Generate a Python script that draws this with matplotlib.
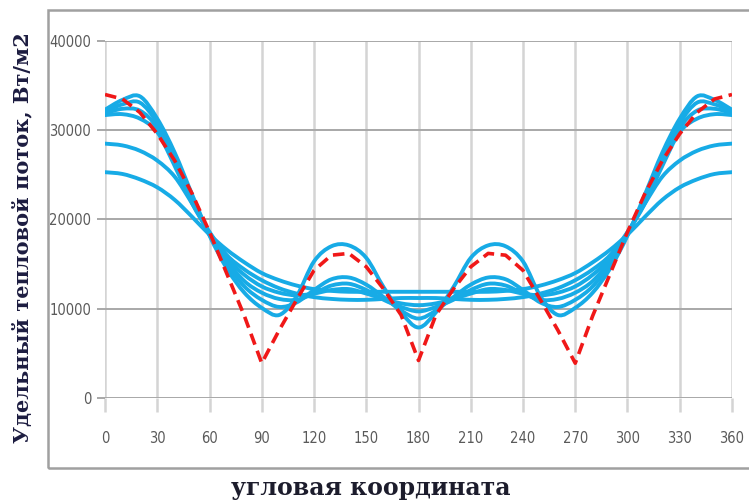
import matplotlib
matplotlib.use("Agg")
from matplotlib import pyplot as plt
from matplotlib.patches import Rectangle, PathPatch
from matplotlib.path import Path

# angle grid, degrees
angles = [0, 10, 20, 30, 40, 50, 60, 70, 80, 90, 100, 110, 120, 130, 140, 150, 160, 170, 180,
          190, 200, 210, 220, 230, 240, 250, 260, 270, 280, 290, 300, 310, 320, 330, 340, 350, 360]

# red dashed reference curve
red_curve = [34000, 33500, 32000, 29600, 26600, 22900, 18600, 13900, 9200, 3900, 7600, 11000, 14300,
             16000, 16200, 14700, 12200, 9300, 4200, 9300, 12200, 14700, 16200, 16000, 14300, 11000,
             7600, 3900, 9200, 13900, 18600, 22900, 26600, 29600, 32000, 33500, 34000]

# blue curves
c1 = [32300, 33400, 33800, 31300, 27500, 22800, 18200, 14500, 11800, 10100, 9300, 11400, 15300,
      17000, 17100, 15700, 12400, 9600, 7900, 9600, 12400, 15700, 17100, 17000, 15300, 11400,
      9300, 10100, 11800, 14500, 18200, 22800, 27500, 31300, 33800, 33400, 32300]
c2 = [32100, 32900, 33100, 30800, 27000, 22500, 18300, 15000, 12500, 11000, 10200, 10700, 12100,
      13300, 13500, 12700, 11300, 9800, 8900, 9800, 11300, 12700, 13500, 13300, 12100, 10700,
      10200, 11000, 12500, 15000, 18300, 22500, 27000, 30800, 33100, 32900, 32100]
c3 = [31900, 32400, 32200, 30300, 26500, 22200, 18400, 15400, 13100, 11800, 11100, 11000, 11700,
      12600, 12800, 12100, 11000, 10200, 9700, 10200, 11000, 12100, 12800, 12600, 11700, 11000,
      11100, 11800, 13100, 15400, 18400, 22200, 26500, 30300, 32200, 32400, 31900]
c4 = [31700, 31800, 31300, 29800, 26000, 21800, 18500, 15700, 13800, 12500, 11800, 11500, 11700,
      12100, 12200, 11700, 11100, 10600, 10400, 10600, 11100, 11700, 12200, 12100, 11700, 11500,
      11800, 12500, 13800, 15700, 18500, 21800, 26000, 29800, 31300, 31800, 31700]
c5 = [28500, 28300, 27700, 26600, 24800, 21800, 18600, 16000, 14400, 13200, 12300, 11700, 11300,
      11100, 11000, 11000, 11100, 11200, 11200, 11200, 11100, 11000, 11000, 11100, 11300, 11700,
      12300, 13200, 14400, 16000, 18600, 21800, 24800, 26600, 27700, 28300, 28500]
c6 = [25300, 25100, 24500, 23600, 22200, 20300, 18300, 16600, 15200, 14000, 13200, 12600, 12200,
      12000, 11900, 11900, 11900, 11900, 11900, 11900, 11900, 11900, 11900, 12000, 12200, 12600,
      13200, 14000, 15200, 16600, 18300, 20300, 22200, 23600, 24500, 25100, 25300]
blue_curves = [c6, c5, c4, c3, c2, c1]

x_ticks = [0, 30, 60, 90, 120, 150, 180, 210, 240, 270, 300, 330, 360]
y_ticks = [0, 10000, 20000, 30000, 40000]


def smooth_path(xs, ys):
    # excel-like smoothed line: bezier segments through the points
    n = len(xs)
    verts = [(xs[0], ys[0])]
    codes = [Path.MOVETO]
    for i in range(n - 1):
        a = max(i - 1, 0)
        b = min(i + 2, n - 1)
        p1 = (xs[i] + (xs[i + 1] - xs[a]) / 6, ys[i] + (ys[i + 1] - ys[a]) / 6)
        p2 = (xs[i + 1] - (xs[b] - xs[i]) / 6, ys[i + 1] - (ys[b] - ys[i]) / 6)
        verts += [p1, p2, (xs[i + 1], ys[i + 1])]
        codes += [Path.CURVE4] * 3
    return Path(verts, codes)


fig = plt.figure(figsize=(7.49, 5.01), dpi=100)
fig.patch.set_facecolor("white")

# outer chart frame
fig.patches.append(Rectangle((0.064, 0.066), 0.96, 0.914, transform=fig.transFigure,
                             fill=False, edgecolor="#a0a0a0", linewidth=1.8, clip_on=False))

ax = fig.add_axes([0.1402, 0.2056, 0.8371, 0.7126])

for ycurve in blue_curves:
    ax.add_patch(PathPatch(smooth_path(angles, ycurve), fill=False, edgecolor="#17abe6",
                           linewidth=2.8, joinstyle="round", capstyle="round", zorder=3))
ax.plot(angles, red_curve, color="#f01818", linewidth=2.6, dashes=(3.2, 1.8), zorder=4)

ax.set_xlim(0, 360)
ax.set_ylim(0, 40000)
ax.set_xticks(x_ticks)
ax.set_yticks(y_ticks)

for s in ax.spines.values():
    s.set_visible(False)

ax.xaxis.grid(True, color="#d4d4d4", linewidth=1.8)
ax.yaxis.grid(True, color="#a8a8a8", linewidth=1.4)
ax.set_axisbelow(True)

ax.tick_params(axis="x", length=10, width=1.8, color="#d4d4d4", pad=14,
               labelsize=10.5, labelcolor="#5a5a5a")
ax.tick_params(axis="y", length=6, width=1.4, color="#a8a8a8", pad=4,
               labelsize=10.5, labelcolor="#5a5a5a")
for lbl in ax.get_xticklabels() + ax.get_yticklabels():
    lbl.set_family("DejaVu Sans")
    lbl.set_stretch("condensed")

fig.text(0.030, 0.525, "Удельный тепловой поток, Вт/м2", rotation=90, ha="center", va="center",
         fontsize=15, fontweight="bold", family="DejaVu Serif", color="#1c1c40")
fig.text(0.495, 0.026, "угловая координата", ha="center", va="center",
         fontsize=17, fontweight="bold", family="DejaVu Serif", color="#1c1c2c")

fig.savefig("out.png", dpi=100)
